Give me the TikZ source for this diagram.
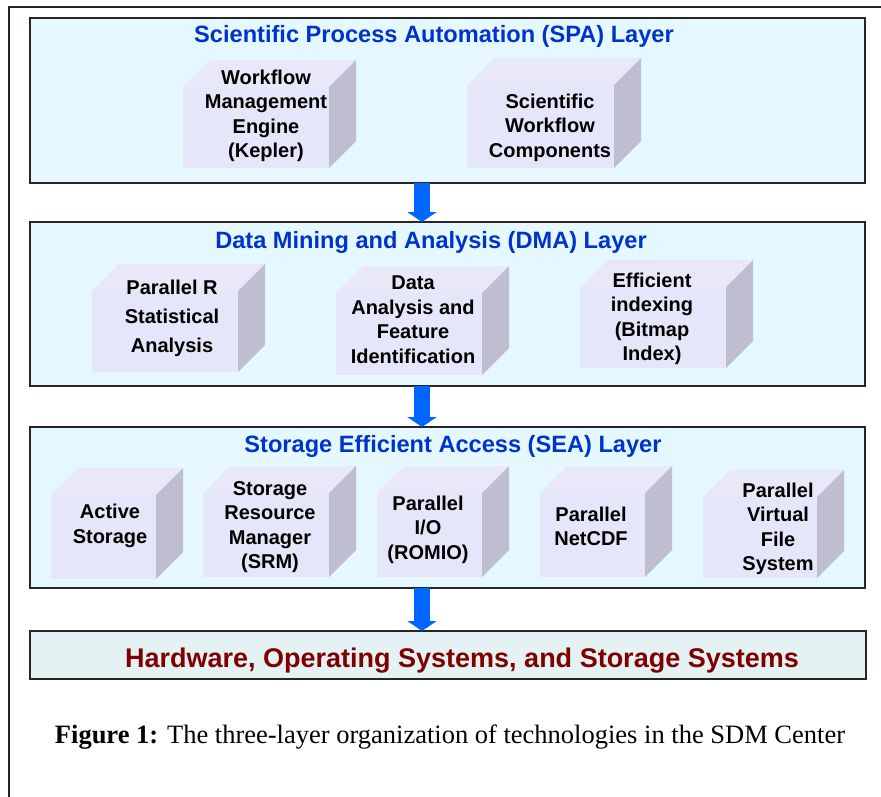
\documentclass[tikz,border=0pt]{standalone}
\usepackage{fontspec}
\setmainfont{Liberation Serif}
\setsansfont{Liberation Sans}
\usetikzlibrary{arrows.meta}
\definecolor{layerbg}{RGB}{229,248,255}
\definecolor{hwbg}{RGB}{228,242,244}
\definecolor{frontc}{RGB}{230,230,250}
\definecolor{topc}{RGB}{232,232,248}
\definecolor{sidec}{RGB}{190,190,208}
\definecolor{titleblue}{RGB}{0,51,204}
\definecolor{arrowblue}{RGB}{0,102,255}
\definecolor{hwred}{RGB}{128,0,0}
\tikzset{
  layer/.style={draw=black!85, line width=1.4pt, fill=layerbg, inner sep=0pt, outer sep=0pt, anchor=north west, minimum width=835pt},
  hwlayer/.style={layer, fill=hwbg, minimum width=836pt},
  frontface/.style={fill=frontc, inner sep=0pt, outer sep=0pt, anchor=north west},
  topface/.style={fill=topc},
  sideface/.style={fill=sidec},
  lbl/.style={font=\sffamily\bfseries\fontsize{20}{24.5}\selectfont, align=center, inner sep=0pt, text=black, yshift=-2.5pt},
  lbltall/.style={lbl, font=\sffamily\bfseries\fontsize{20}{29}\selectfont},
  title/.style={font=\sffamily\bfseries\fontsize{23.6}{28}\selectfont, text=titleblue, anchor=base, inner sep=0pt},
  hwtitle/.style={font=\sffamily\bfseries\fontsize{27}{32}\selectfont, text=hwred, anchor=base, inner sep=0pt},
  blockarrow/.style={draw=arrowblue, line width=16pt, -{Triangle[width=29pt,length=10pt]}},
  frame/.style={draw=black!85, line width=1.5pt}
}
\newcommand\sdmcube[5]{%
  \node[frontface, minimum width={#4-#2}, minimum height={#5-#3}] (#1) at (#2,#3) {};
  \fill[topface] (#1.north west) -- ++(27,-27) -- ([shift={(27,-27)}]#1.north east) -- (#1.north east) -- cycle;
  \fill[sideface] (#1.north east) -- ++(27,-27) -- ([shift={(27,-27)}]#1.south east) -- (#1.south east) -- cycle;
}
\begin{document}
\begin{tikzpicture}[x=1pt,y=-1pt]
\useasboundingbox (0,0) rectangle (881,797);
\clip (0,0) rectangle (881,797);
\fill[white] (0,0) rectangle (881,797);
% outer frame (extends beyond the image)
\coordinate (fbl) at (9,830);
\coordinate (ftl) at (9,7);
\coordinate (ftr) at (900,7);
\draw[frame] (fbl) -- (ftl) -- (ftr);

% layers
\node[layer, minimum height=165pt] (spa) at (30,18) {};
\node[layer, minimum height=164pt] (dma) at (30,222) {};
\node[layer, minimum height=161pt] (sea) at (30,427) {};
\node[hwlayer, minimum height=48pt] (hw) at (30,631) {};

% titles
\node[title] (spat) at (434,43) {Scientific Process Automation (SPA) Layer};
\node[title] (dmat) at (431,248) {Data Mining and Analysis (DMA) Layer};
\node[title] (seat) at (453,452) {Storage Efficient Access (SEA) Layer};
\node[hwtitle] (hwt) at (462,667) {Hardware, Operating Systems, and Storage Systems};

% SPA cubes
\sdmcube{wfe}{183}{87}{329}{168}
\sdmcube{swc}{467}{85}{614}{168}
\node[lbl] (wfet) at (266,113.5) {Workflow\\Management\\Engine\\(Kepler)};
\node[lbl] (swct) at (550,125) {Scientific\\Workflow\\Components};

% DMA cubes
\sdmcube{prs}{92}{291}{238}{372}
\sdmcube{daf}{336}{293}{482}{375}
\sdmcube{eix}{580}{287}{726}{368}
\node[lbltall] (prst) at (172,315.5) {Parallel R\\Statistical\\Analysis};
\node[lbl] (daft) at (413,317) {Data\\Analysis and\\Feature\\Identification};
\node[lbl] (eixt) at (652,316.5) {Efficient\\indexing\\(Bitmap\\Index)};

% SEA cubes
\sdmcube{act}{51}{495}{156}{579}
\sdmcube{srm}{203}{493}{329}{577}
\sdmcube{pio}{377}{493}{482}{577}
\sdmcube{ncd}{540}{493}{645}{577}
\sdmcube{pvf}{703}{497}{817}{578}
\node[lbl] (actt) at (110,523.5) {Active\\Storage};
\node[lbl] (srmt) at (270,524.5) {Storage\\Resource\\Manager\\(SRM)};
\node[lbl] (piot) at (428,527) {Parallel\\I/O\\(ROMIO)};
\node[lbl] (ncdt) at (591,524) {Parallel\\NetCDF};
\node[lbl] (pvft) at (778,526.5) {Parallel\\Virtual\\File\\System};

% arrows
\draw[blockarrow] ([xshift=-25.5pt]spa.south) -- ([xshift=-25.5pt]dma.north);
\draw[blockarrow] ([xshift=-25.5pt]dma.south) -- ([xshift=-25.5pt]sea.north);
\draw[blockarrow] ([xshift=-25.5pt]sea.south) -- ([xshift=-26pt]hw.north);

% caption
\node[anchor=base, inner sep=0pt, font=\fontsize{26.5}{30}\selectfont] (cap) at (450,743) {\textbf{Figure 1:} The three-layer organization of technologies in the SDM Center};
\end{tikzpicture}
\end{document}
